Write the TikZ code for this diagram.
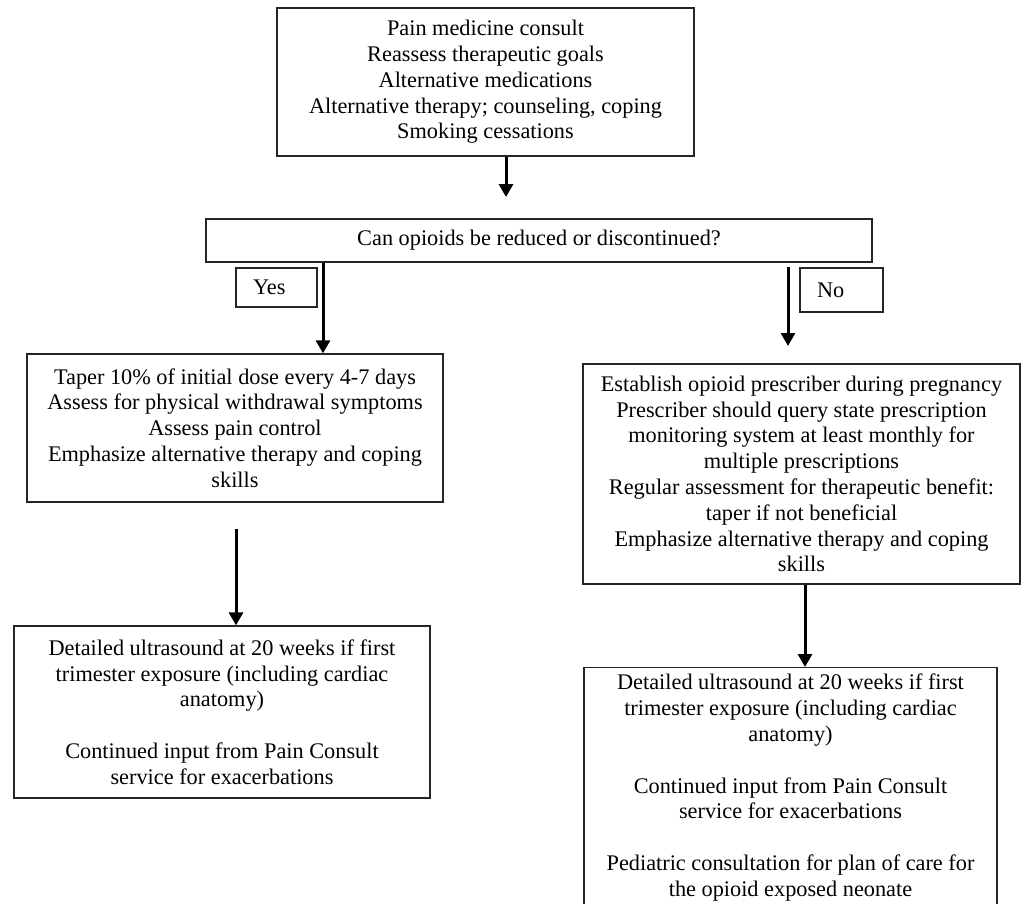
\documentclass[tikz,border=0pt]{standalone}
\usepackage{fontspec}
\setmainfont{Liberation Serif}
\usetikzlibrary{arrows.meta}
\begin{document}
\begin{tikzpicture}[x=1pt,y=-1pt,
  box/.style={draw=black!85,line width=1.3pt,rectangle,inner sep=0pt,align=center,
    font=\fontsize{22.3}{25.8}\selectfont},
  lbl/.style={draw=black!85,line width=1.3pt,rectangle,inner ysep=0pt,inner xsep=17pt,
    align=left,font=\fontsize{22.3}{25.8}\selectfont},
  arr/.style={line width=3pt,-{Triangle[width=14pt,length=13pt]}}]
\useasboundingbox (0,0) rectangle (1022,903);
\clip (0,0) rectangle (1022,903);
\node[box,minimum width=417pt,minimum height=148pt] (top) at (485.5,82)
  {Pain medicine consult\\Reassess therapeutic goals\\Alternative medications\\Alternative therapy; counseling, coping\\Smoking cessations};
\node[box,minimum width=666pt,minimum height=43pt] (q) at (539,240.5)
  {Can opioids be reduced or discontinued?};
\node[lbl,minimum width=81pt,minimum height=39pt,text width=47pt] (yes) at (276.5,287.5) {Yes};
\node[lbl,minimum width=83pt,minimum height=44pt,text width=49pt] (no) at (841.5,290) {No};
\node[box,minimum width=416pt,minimum height=148pt] (l2) at (235,428)
  {Taper 10\% of initial dose every 4-7 days\\Assess for physical withdrawal symptoms\\Assess pain control\\Emphasize alternative therapy and coping\\skills};
\node[box,minimum width=416pt,minimum height=172pt] (l3) at (222,712)
  {Detailed ultrasound at 20 weeks if first\\trimester exposure (including cardiac\\anatomy)\\[25.8pt]Continued input from Pain Consult\\service for exacerbations};
\node[box,minimum width=437pt,minimum height=220pt] (r2) at (801.5,474)
  {Establish opioid prescriber during pregnancy\\Prescriber should query state prescription\\monitoring system at least monthly for\\multiple prescriptions\\Regular assessment for therapeutic benefit:\\taper if not beneficial\\Emphasize alternative therapy and coping\\skills};
\node[box,minimum width=413pt,minimum height=240pt,anchor=north] (r3) at (790.5,667)
  {Detailed ultrasound at 20 weeks if first\\trimester exposure (including cardiac\\anatomy)\\[25.8pt]Continued input from Pain Consult\\service for exacerbations\\[25.8pt]Pediatric consultation for plan of care for\\the opioid exposed neonate};
\coordinate (t1) at (506,197);
\coordinate (yx) at (323,0);
\coordinate (n0) at (788,267);
\coordinate (n1) at (788,346);
\coordinate (l0) at (236,529);
\coordinate (rx) at (805,0);
\draw[arr] (t1 |- top.south) -- (t1);
\draw[arr] (q.south -| yx) -- (l2.north -| yx);
\draw[arr] (n0) -- (n1);
\draw[arr] (l0) -- (l3.north -| l0);
\draw[arr] (r2.south -| rx) -- (r3.north -| rx);
\end{tikzpicture}
\end{document}
